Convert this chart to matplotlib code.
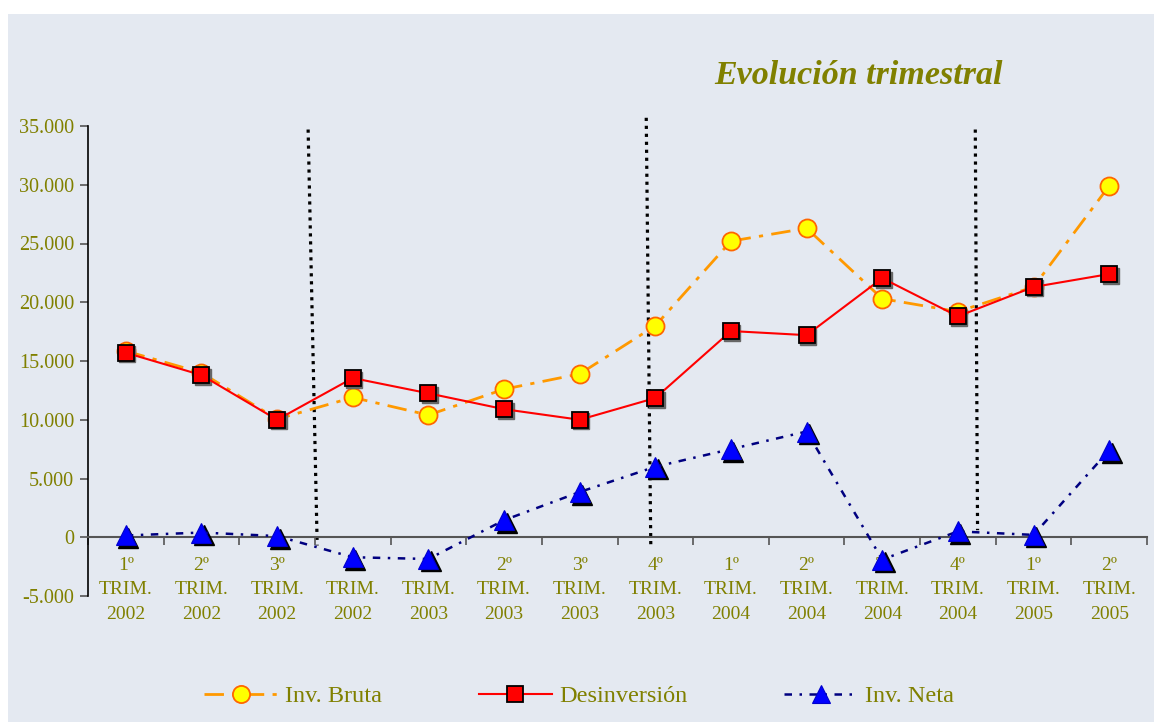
import numpy as np
import matplotlib
matplotlib.use("Agg")
import matplotlib.pyplot as plt
import matplotlib.transforms as mtransforms
from matplotlib.patches import Rectangle

plt.rcParams['font.family'] = ['Liberation Serif', 'DejaVu Serif']

quarters = ["1º", "2º", "3º", "4º", "1º", "2º", "3º", "4º",
            "1º", "2º", "3º", "4º", "1º", "2º"]
years = ["2002", "2002", "2002", "2002", "2003", "2003", "2003", "2003",
         "2004", "2004", "2004", "2004", "2005", "2005"]

inv_bruta = [15850, 14000, 10050, 11900, 10400, 12600, 13900, 18000,
             25200, 26300, 20300, 19200, 21300, 29900]
desinversion = [15700, 13800, 10000, 13550, 12250, 10900, 10000, 11850,
                17550, 17200, 22050, 18800, 21300, 22400]
inv_neta = [150, 400, 100, -1700, -1850, 1450, 3850, 6000,
            7500, 9000, -1900, 500, 200, 7400]

# separator lines (x at top, x at bottom, y top, y bottom) in category units / values
separators = [(2.41, 2.53, 34700, -700),
              (6.88, 6.94, 35700, -700),
              (11.23, 11.26, 34700, 600)]

olive = "#808000"
bg = "#E4E9F1"

fig = plt.figure(figsize=(11.54, 7.22), dpi=100, facecolor="white")
fig.patches.append(Rectangle((8 / 1154, 0), 1, 1 - 14 / 722, transform=fig.transFigure,
                             facecolor=bg, edgecolor="none", zorder=-10))

ax = fig.add_axes([88 / 1154, 1 - 596 / 722, (1147 - 88) / 1154, (596 - 126) / 722])
ax.set_facecolor(bg)
ax.patch.set_alpha(0)

x = np.arange(len(quarters))
shadow = mtransforms.offset_copy(ax.transData, fig=fig, x=2.5, y=-2.5, units='dots')
shadow_sq = mtransforms.offset_copy(ax.transData, fig=fig, x=1.5, y=-1.5, units='dots')

for xt, xb, yt, yb in separators:
    ax.plot([xt, xb], [yt, yb], color="black", lw=2.3, linestyle=(0, (1, 1.5)),
            zorder=1, clip_on=False)

ax.plot(x, inv_bruta, color="#FF9900", lw=2, linestyle=(0, (7, 3, 1.5, 3)),
        marker="o", markersize=13, markerfacecolor="#FFFF00",
        markeredgecolor="#FF6600", markeredgewidth=1.3, zorder=3, label="Inv. Bruta")

ax.plot(x, desinversion, lw=0, marker="s", markersize=12,
        markerfacecolor="#666666", markeredgecolor="#666666", transform=shadow_sq, zorder=3.5)
ax.plot(x, desinversion, color="#FF0000", lw=1.5, marker="s", markersize=12,
        markerfacecolor="#FF0000", markeredgecolor="black", markeredgewidth=1.3,
        zorder=4, label="Desinversión")

ax.plot(x, inv_neta, lw=0, marker="^", markersize=14,
        markerfacecolor="black", markeredgecolor="black", transform=shadow, zorder=4.5)
ax.plot(x, inv_neta, color="#000080", lw=1.8, linestyle=(0, (3, 3, 1, 3)),
        marker="^", markersize=14, markerfacecolor="#0000FF",
        markeredgecolor="#0000CC", markeredgewidth=0.8, zorder=5, label="Inv. Neta")

ax.set_xlim(-0.5, len(quarters) - 0.5)
ax.set_ylim(-5000, 35000)
yticks = np.arange(-5000, 35001, 5000)
ax.set_yticks(yticks)
ax.set_yticklabels([f"{v:,}".replace(",", ".") for v in yticks])

ax.set_xticks(x)
ax.set_xticklabels([f"{q}\nTRIM.\n{y}" for q, y in zip(quarters, years)])
ax.set_xticks(np.arange(-0.5, len(quarters)), minor=True)

for s in ["top", "right"]:
    ax.spines[s].set_visible(False)
ax.spines["bottom"].set_position(("data", 0))
ax.spines["bottom"].set_color("#555555")
ax.spines["bottom"].set_linewidth(1.5)
ax.spines["left"].set_color("black")
ax.spines["left"].set_linewidth(1.2)

ax.tick_params(axis="x", which="major", length=0, pad=14, labelsize=14, labelcolor=olive)
ax.tick_params(axis="x", which="minor", length=6, width=1.2, color="#555555", direction="out")
ax.tick_params(axis="y", length=6, width=1.2, pad=4, labelsize=14.5, labelcolor=olive,
               color="#555555")

for tk in ax.xaxis.get_major_ticks():
    tk.label1.set_linespacing(1.6)

fig.text(858 / 1154, 1 - 76 / 722, "Evolución trimestral", fontsize=24.5,
         fontweight="bold", fontstyle="italic", color=olive, ha="center", va="center")

fig.legend(loc="center", bbox_to_anchor=(579 / 1154, 1 - 696 / 722), ncol=3,
           frameon=False, fontsize=17.5, handlelength=3, handletextpad=0.3,
           columnspacing=4.0, labelcolor=olive, markerscale=0.95)

fig.savefig("out.png", dpi=100, facecolor=fig.get_facecolor())
